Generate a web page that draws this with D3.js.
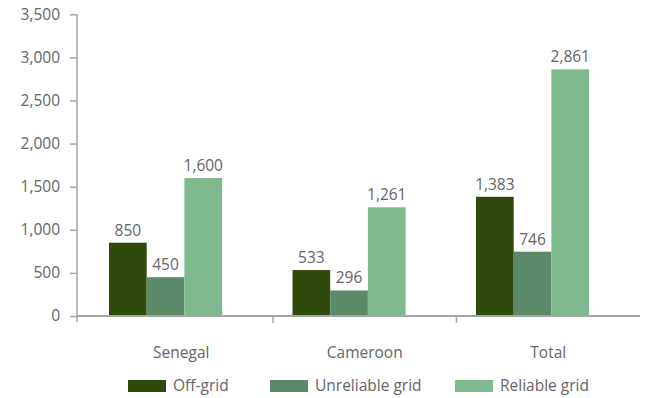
<!DOCTYPE html>
<html>
<head>
<meta charset="utf-8">
<script src="https://cdn.jsdelivr.net/npm/d3@7/dist/d3.min.js"></script>
<style>
  html, body { margin: 0; padding: 0; background: #fff; }
  svg { display: block; font-family: "Open Sans", "Noto Sans", sans-serif; }
</style>
</head>
<body>
<svg id="chart" width="646" height="398"></svg>
<script>
// Households by electricity access (values shown above bars)
const categories = ["Senegal", "Cameroon", "Total"];
const seriesNames = ["Off-grid", "Unreliable grid", "Reliable grid"];
const offGrid = [850, 533, 1383];
const unreliableGrid = [450, 296, 746];
const reliableGrid = [1600, 1261, 2861];
const yTicks = [0, 500, 1000, 1500, 2000, 2500, 3000, 3500];

const seriesValues = [offGrid, unreliableGrid, reliableGrid];
const colors = ["#2f4a0b", "#5b8a6b", "#7fb98e"];
const textColor = "#646569";
const axisColor = "#a6a6a6";
const fontSize = 15.5;

const svg = d3.select("#chart");
const fmt = d3.format(",");

const axisX = 77;
const plotRight = 640;
const y = d3.scaleLinear().domain([0, 3500]).range([316, 14.3]);

const x = d3.scaleBand().domain(categories).range([89.5, plotRight]).paddingInner(0).paddingOuter(0);
const groupOffset = 19.5;
const barW = 37.7;
const xs = d3.scaleBand().domain(seriesNames).range([0, barW * 3]).padding(0);

// bars
categories.forEach((cat, ci) => {
  const g = svg.append("g").attr("transform", `translate(${x(cat) + groupOffset},0)`);
  seriesNames.forEach((s, si) => {
    const v = seriesValues[si][ci];
    g.append("rect")
      .attr("x", xs(s))
      .attr("y", y(v))
      .attr("width", xs.bandwidth())
      .attr("height", y(0) - y(v))
      .attr("fill", colors[si]);
    g.append("text")
      .attr("x", xs(s) + xs.bandwidth() / 2)
      .attr("y", y(v) - 7)
      .attr("text-anchor", "middle")
      .attr("fill", textColor)
      .attr("font-size", fontSize)
      .text(fmt(v));
  });
});

// y axis
const yAxis = svg.append("g")
  .attr("transform", `translate(${axisX},0)`)
  .call(d3.axisLeft(y).tickValues(yTicks).tickFormat(fmt).tickSize(7).tickPadding(10));
yAxis.select(".domain").remove();
yAxis.selectAll(".tick line").attr("stroke", axisColor).attr("stroke-width", 1.5);
yAxis.selectAll(".tick text").attr("fill", textColor).attr("font-size", fontSize)
  .attr("font-family", "'Open Sans', 'Noto Sans', sans-serif");
svg.append("line")
  .attr("x1", axisX).attr("x2", axisX)
  .attr("y1", y(3500)).attr("y2", y(0) + 6)
  .attr("stroke", axisColor).attr("stroke-width", 1.5);

// x axis
svg.append("line")
  .attr("x1", axisX).attr("x2", plotRight)
  .attr("y1", y(0)).attr("y2", y(0))
  .attr("stroke", axisColor).attr("stroke-width", 2);
categories.slice(1).forEach(cat => {
  svg.append("line")
    .attr("x1", x(cat)).attr("x2", x(cat))
    .attr("y1", y(0)).attr("y2", y(0) + 7)
    .attr("stroke", axisColor).attr("stroke-width", 1.5);
});
categories.forEach(cat => {
  svg.append("text")
    .attr("x", x(cat) + x.bandwidth() / 2)
    .attr("y", 358)
    .attr("text-anchor", "middle")
    .attr("fill", textColor)
    .attr("font-size", fontSize)
    .text(cat);
});

// legend
const legendX = [128, 270, 455];
seriesNames.forEach((s, i) => {
  svg.append("rect")
    .attr("x", legendX[i]).attr("y", 380)
    .attr("width", 38).attr("height", 12)
    .attr("fill", colors[i]);
  svg.append("text")
    .attr("x", legendX[i] + 45).attr("y", 391)
    .attr("fill", textColor)
    .attr("font-size", fontSize)
    .text(s);
});
</script>
</body>
</html>
